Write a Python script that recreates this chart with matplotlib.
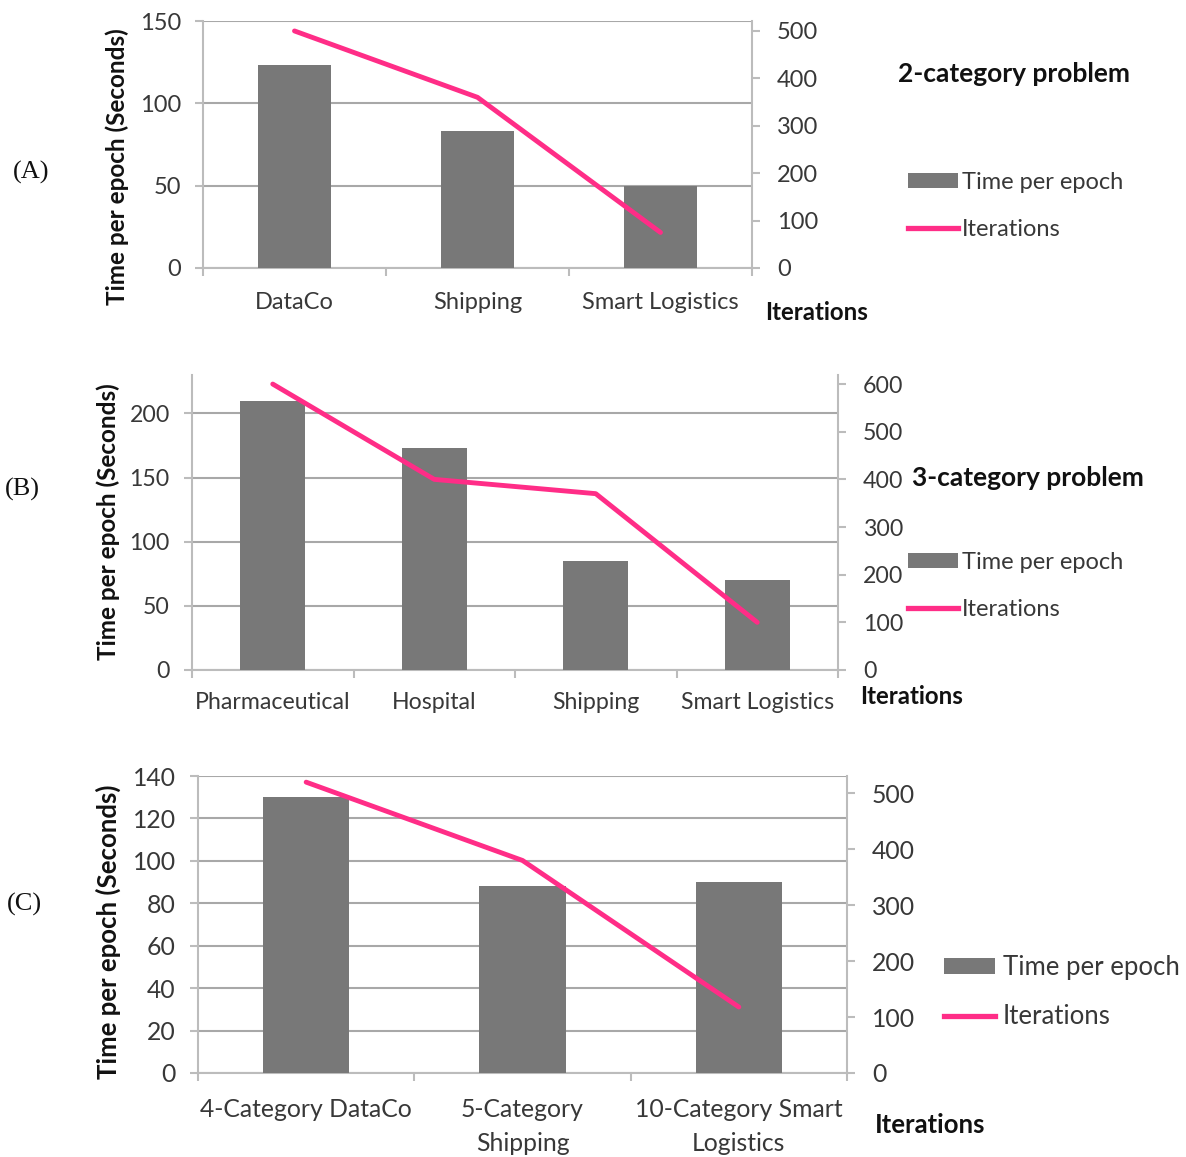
import matplotlib
matplotlib.use("Agg")
import matplotlib.pyplot as plt
import numpy as np
from matplotlib.patches import Patch
from matplotlib.lines import Line2D

# ---- data -------------------------------------------------------------
cats_a = ["DataCo", "Shipping", "Smart Logistics"]
time_a = [123, 83, 50]
iters_a = [500, 360, 75]

cats_b = ["Pharmaceutical", "Hospital", "Shipping", "Smart Logistics"]
time_b = [210, 173, 85, 70]
iters_b = [600, 400, 370, 100]

cats_c = ["4-Category DataCo", "5-Category\nShipping", "10-Category Smart\nLogistics"]
time_c = [130, 88, 90]
iters_c = [520, 380, 118]

left_ticks_a = [0, 50, 100, 150]
left_ticks_b = [0, 50, 100, 150, 200]
left_ticks_c = [0, 20, 40, 60, 80, 100, 120, 140]
right_ticks_a = [0, 100, 200, 300, 400, 500]
right_ticks_b = [0, 100, 200, 300, 400, 500, 600]
right_ticks_c = [0, 100, 200, 300, 400, 500]

# ---- style ------------------------------------------------------------
SANS = ["Lato", "DejaVu Sans"]
SERIF = ["Liberation Serif", "DejaVu Serif"]
BAR = "#787878"
LINE = "#ff2d87"
GRID = "#a8a8a8"
SPINE = "#bcbcbc"
TXT = "#383838"
DARK = "#111111"

W, H = 1186, 1157
fig = plt.figure(figsize=(W / 100, H / 100), dpi=100)


def fx(px):
    return px / W


def fy(py):
    return 1 - py / H


def panel(box, cats, times, iters, lticks, lmax, rticks, rmax, fs, xpad,
          lsp=1.2):
    x0, y0, x1, y1 = box
    ax = fig.add_axes([fx(x0), fy(y1), fx(x1) - fx(x0), fy(y0) - fy(y1)])
    n = len(cats)
    x = np.arange(n)
    ax.bar(x, times, width=0.4, color=BAR, zorder=3)
    ax.set_xlim(-0.5, n - 0.5)
    ax.set_ylim(0, lmax)
    ax.set_yticks(lticks)
    ax.yaxis.grid(True, color=GRID, linewidth=1.5, zorder=0)
    ax.set_axisbelow(True)
    for s in ["top", "right"]:
        ax.spines[s].set_visible(False)
    for s in ["left", "bottom"]:
        ax.spines[s].set_color(SPINE)
        ax.spines[s].set_linewidth(1.5)
    # category boundaries as tick marks, names centred between them
    ax.set_xticks(np.arange(-0.5, n, 1.0))
    ax.set_xticklabels([])
    ax.set_xticks(x, minor=True)
    ax.set_xticklabels(cats, minor=True, fontsize=fs, family=SANS, color=TXT,
                       linespacing=lsp)
    ax.tick_params(axis="x", which="major", length=5.5, width=1.5, color=SPINE)
    ax.tick_params(axis="x", which="minor", length=0, pad=xpad)
    ax.tick_params(axis="y", length=6, width=1.5, color=SPINE, pad=10,
                   labelsize=fs, labelcolor=TXT)
    for t in ax.get_yticklabels():
        t.set_family(SANS)

    ax2 = ax.twinx()
    ax2.plot(x, iters, color=LINE, linewidth=3.5, solid_capstyle="round",
             zorder=4)
    ax2.set_ylim(0, rmax)
    ax2.set_yticks(rticks)
    for s in ["top", "left", "bottom"]:
        ax2.spines[s].set_visible(False)
    ax2.spines["right"].set_color(SPINE)
    ax2.spines["right"].set_linewidth(1.5)
    ax2.tick_params(axis="y", length=6, width=1.5, color=SPINE, pad=12,
                    labelsize=fs, labelcolor=TXT)
    for t in ax2.get_yticklabels():
        t.set_family(SANS)
    return ax, ax2


def legend_at(px, py, fs, hl, tp, ls):
    handles = [Patch(facecolor=BAR, edgecolor="none"),
               Line2D([0], [0], color=LINE, linewidth=3.8)]
    fig.legend(handles, ["Time per epoch", "Iterations"],
               loc="upper left", bbox_to_anchor=(fx(px), fy(py)),
               frameon=False, prop={"family": SANS, "size": fs},
               handlelength=hl, handleheight=0.6, handletextpad=tp,
               labelspacing=ls, borderpad=0, borderaxespad=0,
               labelcolor=TXT)


def ylabel_at(px, py, fs):
    fig.text(fx(px), fy(py), "Time per epoch (Seconds)", fontsize=fs,
             fontweight="bold", family=SANS, color=DARK, rotation=90,
             ha="center", va="center")


def bold_at(px, py, text, fs):
    fig.text(fx(px), fy(py), text, fontsize=fs, fontweight="bold",
             family=SANS, color=DARK, va="center")


# ---- panel A ----------------------------------------------------------
panel((203, 21, 752, 268), cats_a, time_a, iters_a,
      left_ticks_a, 150, right_ticks_a, 521, 17, 17)
ylabel_at(117, 167, 17.5)
bold_at(898, 74, "2-category problem", 19)
bold_at(765, 313, "Iterations", 17.3)
legend_at(908, 172, 17, 2.1, 0.2, 1.1)
fig.text(fx(31), fy(172), "(A)", fontsize=19, family=SERIF,
         color=DARK, ha="center", va="center")

# ---- panel B ----------------------------------------------------------
panel((192, 375, 838, 670), cats_b, time_b, iters_b,
      left_ticks_b, 230, right_ticks_b, 619, 16.7, 16)
ylabel_at(108, 522, 17.5)
bold_at(912, 478, "3-category problem", 19)
bold_at(860, 696, "Iterations", 17.3)
legend_at(908, 552, 17, 2.1, 0.2, 1.1)
fig.text(fx(22), fy(489), "(B)", fontsize=19, family=SERIF,
         color=DARK, ha="center", va="center")

# ---- panel C ----------------------------------------------------------
panel((198, 776, 847, 1073), cats_c, time_c, iters_c,
      left_ticks_c, 140, right_ticks_c, 531, 17.8, 18, lsp=1.58)
ylabel_at(108, 932, 18.5)
bold_at(875, 1125, "Iterations", 18.5)
legend_at(944, 955, 18.5, 2.0, 0.3, 0.95)
fig.text(fx(24), fy(904), "(C)", fontsize=19, family=SERIF,
         color=DARK, ha="center", va="center")

fig.savefig("out.png", dpi=100)
